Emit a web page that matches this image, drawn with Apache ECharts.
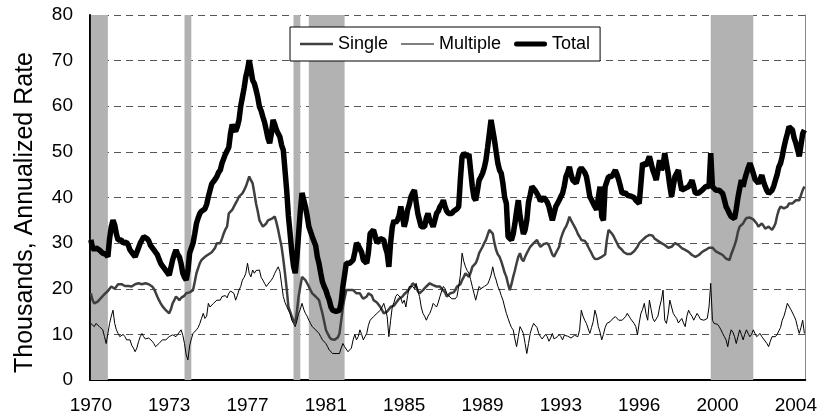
<!DOCTYPE html>
<html lang="en">
<head>
    <meta charset="UTF-8">
    <title>Housing starts</title>
    <style>
        body{ margin: 0; background: #fff; }
        #main{ width: 820px; height: 420px; }
    </style>
</head>
<body>
<div id="main"></div>
<script src="https://cdn.jsdelivr.net/npm/echarts@6/dist/echarts.min.js"></script>
<script>
    // monthly, Jan 1970 - Dec 2004, thousands (annualized rate)
    const single = [
        19, 17.5, 16.8, 17, 17.2, 17.5, 18, 18.3, 18.8, 19, 19.5, 20,
        20.5, 20.2, 20, 20.5, 21, 21.2, 21, 20.8, 20.6, 20.5, 20.6, 20.5,
        20.5, 20.8, 21, 21, 21.2, 21, 21, 21.2, 21.2, 21.2, 21, 20.8,
        20.5, 20, 19.2, 18.3, 17.5, 16.8, 16.2, 15.8, 15.3, 15, 14.6, 15.5,
        16.8, 17.5, 18.3, 18, 17.5, 18, 18.3, 18.5, 19, 19, 19.2, 19.5,
        19.7, 21.5, 23.4, 24.5, 25.6, 26.3, 26.5, 27, 27.2, 27.5, 27.8, 28,
        28.5, 29, 30, 30, 30, 31, 32.1, 33, 33.6, 36.5, 36.8, 37.3,
        38, 38.7, 39.4, 40.2, 40.5, 40.9, 41.6, 42.4, 43.5, 44.6, 43.8, 43.1,
        41, 38.7, 37, 35, 34.3, 33.6, 34, 34.3, 35, 35, 35.3, 35.5,
        35.8, 34.5, 32.9, 31, 29.2, 26.5, 23.4, 20, 16.1, 15, 13.9, 13,
        12.4, 15, 18.3, 20.5, 22.6, 22.2, 21.9, 21.2, 20.5, 19.7, 19, 18.6,
        18.3, 18, 17.5, 16, 14.6, 12.8, 11, 10.2, 9.5, 9, 8.8, 8.8,
        9, 9.3, 10.2, 13, 16, 18, 19.7, 19.7, 19.7, 19.5, 19.7, 19.3,
        19, 19, 19, 18.3, 17.8, 17.5, 18.3, 19, 19, 18.5, 17.5, 17.3,
        17, 16.5, 16, 15.3, 14.6, 14.6, 15, 15.5, 16, 16, 16.3, 16.8,
        17.3, 17.8, 17.5, 18.3, 18.8, 19, 19.5, 19.7, 20.5, 21.2, 21, 20.5,
        19.5, 19, 19.3, 19.7, 20, 20.5, 20.8, 21.2, 21, 20.8, 20.5, 20.5,
        20.5, 20.5, 20, 19.7, 19.2, 18.3, 18.6, 19, 19.4, 19.2, 19.7, 20.5,
        20.5, 21, 21.9, 22.6, 23.4, 23, 22.6, 23.5, 24.8, 25.2, 25.6, 26.5,
        27.8, 28.5, 29.2, 30, 30.7, 31.8, 32.9, 32.5, 32.1, 30, 28.5, 27.5,
        27, 26, 24.8, 23.5, 22.6, 21, 19.7, 21, 22.6, 24, 25.6, 27,
        27.8, 26.5, 26, 27, 27.8, 28.5, 29.2, 29.6, 30, 30.3, 30.7, 29.8,
        29.2, 29.5, 29.8, 30, 30, 29.5, 28.5, 27.5, 27, 27.8, 28.5, 29.2,
        31, 32.1, 33, 33.6, 34.5, 35.8, 35, 34.3, 33.6, 32.9, 32, 31.4,
        30.7, 30.7, 30.5, 30, 29.2, 28.5, 27.8, 27, 26.5, 26.3, 26.6, 27,
        27, 27, 27.5, 30.7, 32.9, 32.5, 32.1, 31.5, 30.7, 30, 29.2, 28.8,
        28.5, 28, 27.8, 27.6, 27.4, 27.6, 27.8, 28.2, 28.5, 29.2, 30, 30.4,
        30.7, 31, 31.4, 31.6, 31.8, 31.8, 31.6, 31, 30.7, 30.5, 30.2, 30,
        29.8, 29.6, 29.2, 29, 28.8, 29.2, 29.5, 30, 30, 29.6, 29.2, 28.9,
        28.7, 28.5, 28.3, 28.1, 27.8, 27.4, 27.2, 27, 27.2, 27.4, 27.8, 28.1,
        28.3, 28.5, 28.8, 29, 29.2, 29, 28.7, 28.2, 27.8, 27.8, 27.6, 27.4,
        27, 26.6, 26.3, 26.3, 27.5, 28.5, 29.5, 30.7, 32.5, 33.6, 33.6, 34.3,
        35, 35.5, 35.8, 35.6, 35.4, 35.2, 35, 34.3, 33.6, 34, 34.3, 33.8,
        33.2, 33.4, 33.6, 33.2, 32.9, 33.5, 34.3, 36, 37.3, 38, 38, 37.6,
        37.3, 38, 38.7, 38.7, 38.7, 39, 39.4, 39.4, 39.4, 40.5, 41.6, 42.4
    ];
    const multiple = [
        12.4, 12, 11.7, 12.4, 12, 11.7, 11.5, 11, 9.5, 8, 10.2, 12.4,
        14, 15.3, 12.4, 11, 10.2, 9.5, 9.8, 10, 9.5, 8.8, 8.5, 8.8,
        7.6, 7, 6.2, 7, 8.4, 9.5, 10.2, 9.5, 9, 8.8, 9.2, 9,
        8.5, 8, 7.3, 7.6, 8, 8.4, 8.8, 8.5, 8.8, 9.2, 9.5, 9.7,
        9.9, 9.7, 9.5, 10, 10.2, 11, 9.8, 8, 5.5, 4.4, 7.5, 9,
        10.2, 10.5, 11, 11.5, 12.4, 13.5, 14.6, 13.5, 14, 16.8, 16, 16.4,
        16.8, 17.2, 17.5, 17.8, 17.5, 18.3, 18, 18.5, 18, 19, 19.5, 19.7,
        19, 17.5, 18.5, 19.7, 20.5, 21.9, 22.5, 23.4, 25.6, 23.4, 22.6, 24.1,
        23.4, 24, 24.1, 24.1, 22.5, 21.9, 21.2, 20.5, 21, 20.8, 21.9, 22.5,
        23.4, 24.1, 24.8, 23.8, 21, 18.3, 17, 16.1, 15.3, 14.6, 13.1, 12.4,
        11.7, 13, 14.6, 15.5, 16.8, 15.5, 14.6, 14, 13.1, 12.4, 11.7, 11.3,
        11, 10.6, 10.2, 9.5, 8.8, 8.4, 8, 7.3, 6.6, 6.2, 5.8, 6.2,
        5.8, 6.2, 5.8, 7, 8, 7.3, 7, 6.2, 5.8, 7, 8.8, 10,
        8.8, 9.5, 11, 10, 8.8, 9.5, 10.2, 12, 13.1, 13.5, 13.9, 14.2,
        14.6, 15, 15.3, 16, 16.8, 15.5, 13.9, 9.5, 13, 16, 17, 18.3,
        18.8, 19, 18, 16.8, 17.5, 16, 18.5, 20.5, 20.5, 20.5, 20, 21.2,
        19.5, 18.3, 16, 14.6, 14, 13.1, 14, 14.6, 15.5, 16.8, 16.5, 16,
        17, 18.3, 19.5, 20.5, 20, 19, 18.5, 18.3, 17.8, 17.5, 17.8, 18.3,
        20.5, 23, 27.8, 26, 24.8, 24, 23.4, 22, 20.5, 19, 17.5, 19,
        20.5, 20, 19.7, 20.5, 20.5, 21, 21.9, 23, 24.8, 23, 21.9, 20.5,
        19.7, 18.5, 17.5, 16, 14.6, 13.5, 12.4, 11.5, 11, 9, 7.3, 9.5,
        11.7, 11, 10.2, 8, 5.8, 8, 10.2, 11.5, 12.4, 12, 11.5, 10.2,
        9.5, 9, 8.8, 10, 9.5, 8.5, 9.2, 10.2, 9, 8.8, 9.5, 10,
        9.5, 8.8, 9.8, 10.2, 9.6, 10, 9.2, 8.8, 9.8, 10.2, 9.5, 11,
        15.3, 14, 13.1, 12.4, 12.8, 10.2, 11.5, 12.8, 15.3, 14, 11.7, 10.5,
        8.8, 10, 11.5, 12.4, 12.4, 12.8, 13.3, 13.5, 13.9, 13.5, 13.1, 13.5,
        13.1, 13.5, 13.9, 14.6, 14, 13.4, 13.1, 12.4, 11.7, 9.9, 12.5, 14.6,
        15.5, 16.8, 14.5, 13.1, 17.5, 15.5, 13.5, 12.8, 12.4, 14, 16, 17.5,
        19.7, 13.1, 12.4, 14.5, 17.5, 16, 14.6, 14, 13.5, 12.5, 12.4, 13.5,
        12.5, 11.7, 14, 15.3, 14.5, 14, 13.1, 13.5, 14.6, 14, 13.3, 13.5,
        13.1, 12.8, 13.5, 16, 21.2, 13.1, 12.4, 12.8, 12.2, 11.7, 11, 10.2,
        9.5, 8.8, 7.3, 9.5, 11, 10.5, 9.5, 8, 9.5, 11, 10, 8.8,
        10, 11, 10.2, 9.5, 10, 11, 10.2, 9.5, 9.8, 10.2, 9.5, 9,
        8.8, 8, 7.3, 8.5, 9.5, 9.5, 9.5, 10, 10.2, 11.5, 13.1, 14,
        15.3, 16.8, 16.8, 15.5, 15.3, 14, 13.1, 11.5, 10.2, 11.5, 13.1, 10.2
    ];
    const total = [
        30.7, 29, 28.5, 29, 28.8, 28.5, 28.5, 27.8, 28, 27.5, 27, 31,
        33.6, 35, 34, 32, 30.7, 30.5, 30.7, 30, 30, 30.2, 29.5, 28.5,
        28, 27.5, 27, 28, 29, 30, 30.7, 31.4, 31.4, 31, 30.5, 29.5,
        29, 28.5, 28.5, 27.5, 26.5, 25.6, 25, 24.5, 24.1, 23.5, 23, 22.6,
        26.3, 27.5, 28.5, 27.5, 27, 25.5, 23.4, 22.5, 21.9, 24, 27.8, 28,
        30, 32, 34.3, 35.5, 36.5, 37, 37.3, 37.5, 38.5, 40.2, 41.6, 43,
        43.1, 44, 44.6, 45.5, 46, 47.5, 48.5, 49.5, 49.7, 51, 54, 56,
        55, 54.5, 55.5, 57, 60, 62, 64, 66.5, 68, 70.1, 68, 65.7,
        65, 63.6, 62, 59.9, 59, 57.7, 56.5, 54.8, 53, 51.9, 54, 57,
        56, 54.8, 54, 53.3, 51.5, 50.4, 46, 41.6, 36, 32.1, 28, 25,
        23.4, 27, 32.1, 37, 41, 40.9, 38, 36, 33.6, 32.5, 31.4, 31,
        29.5, 27, 25.5, 23.4, 21.5, 20.5, 19.7, 18.5, 17.5, 16, 15.3, 15,
        15, 15.3, 15.3, 17, 20.5, 23, 25.6, 26, 25.6, 26, 26.3, 28,
        30, 29.5, 29.2, 28, 26.3, 26, 25.6, 28, 32.1, 32.5, 32.9, 31.5,
        30, 30.5, 31, 30.7, 30.7, 29, 27.8, 24.8, 30, 33.5, 35, 34.5,
        35, 36, 38, 36, 33.6, 35, 37.3, 38.5, 40.2, 41, 41.6, 39,
        36.5, 35, 33.6, 33.6, 33.6, 35.5, 36.5, 35, 34.5, 33.6, 35, 36.5,
        37, 38, 38.5, 39.4, 38, 37, 36.5, 36.5, 36.5, 37, 37.3, 37.5,
        38, 44, 49, 49.7, 49.5, 49, 49.5, 46, 42.4, 40, 39.4, 41.5,
        43.8, 44.5, 45.3, 46.5, 48.2, 51, 54, 57, 57, 52.6, 50, 47.5,
        46, 45.3, 43, 40, 38.7, 31.4, 31, 30.7, 32, 34.3, 37, 39.4,
        36, 34, 32, 32.9, 35, 39, 40.6, 42.4, 42, 41.5, 41.6, 40.2,
        39.2, 39.6, 40, 40.2, 39, 38, 36.5, 35, 36.5, 38, 38.7, 39.4,
        40.2, 40.9, 42.5, 44.6, 45.5, 46.7, 45, 43.8, 43.5, 43.1, 44.5, 46,
        46.5, 46.7, 45.5, 44.6, 42.5, 40.2, 39.5, 38.7, 38, 37.3, 40, 42.4,
        35.8, 35, 42.4, 43.5, 44.6, 45, 44.6, 45.3, 46, 45, 43.8, 42.4,
        40.9, 41, 41, 40.5, 40.2, 40.3, 40.5, 40, 39.4, 39, 38.7, 43,
        47.5, 47.5, 47, 48, 49, 47.5, 46, 45, 43.8, 46, 48.2, 46,
        47, 49.7, 47.5, 45.3, 42.5, 40.2, 42.5, 44.6, 45.3, 46, 43.5, 41.6,
        41.6, 42, 42, 42.4, 43, 43.8, 42.4, 40.9, 41, 41, 41.3, 41.6,
        42, 42.4, 42.4, 42.4, 49.7, 42.4, 42, 41.6, 41.6, 41.6, 41.3, 40.9,
        39.5, 38, 37.3, 36.5, 35.8, 35.5, 35.4, 37.5, 40, 42, 43.8, 42.4,
        44, 45.3, 46.5, 47.5, 46.5, 45.3, 44, 43.8, 43.1, 44, 44.9, 43.5,
        42.4, 41.5, 40.9, 41, 41.6, 42.5, 43.8, 45, 46.7, 47.5, 49, 51,
        52.6, 54, 55.5, 55.3, 54.8, 53, 51.9, 50.5, 49, 51.5, 54, 54.8
    ];
    // shaded periods, as [first month, last month] indexes into the series
    const recessions = [[0, 10], [55, 59], [119, 123], [128, 149], [364, 389]];
    const firstYear = 1970;

    const months = [];
    for (let i = 0; i < total.length; i++) {
        const y = firstYear + Math.floor(i / 12);
        const m = (i % 12) + 1;
        months.push(y + '-' + (m < 10 ? '0' + m : m));
    }

    const font = 'Liberation Sans, Arial, sans-serif';
    const chart = echarts.init(document.getElementById('main'));

    chart.setOption({
        animation: false,
        textStyle: { fontFamily: font },
        grid: { left: 90, right: 13, top: 15, bottom: 40, containLabel: false },
        legend: {
            left: 290,
            top: 27,
            padding: [8, 10, 8, 10],
            itemGap: 13,
            itemWidth: 33,
            itemHeight: 14,
            borderColor: '#000',
            borderWidth: 1,
            backgroundColor: '#fff',
            textStyle: { fontSize: 18, color: '#000', fontFamily: font },
            data: [
                { name: 'Single', icon: 'path://M0,0H33V2.5H0Z' },
                { name: 'Multiple', icon: 'path://M0,0H33V1H0Z' },
                { name: 'Total', icon: 'path://M2.5,0H30.5A2.5,2.5,0,0,1,30.5,5H2.5A2.5,2.5,0,0,1,2.5,0Z' }
            ]
        },
        xAxis: {
            type: 'category',
            data: months,
            boundaryGap: true,
            axisLine: { lineStyle: { color: '#000', width: 2 } },
            axisTick: { show: false },
            axisLabel: {
                interval: 45,
                margin: 16,
                fontSize: 19,
                color: '#000',
                formatter: v => v.slice(0, 4)
            },
            splitLine: { show: false }
        },
        yAxis: [{
            type: 'value',
            min: 0,
            max: 80,
            interval: 10,
            name: 'Thousands, Annualized Rate',
            nameLocation: 'middle',
            nameGap: 52,
            nameTextStyle: { fontSize: 25, color: '#000', padding: [0, 30, 0, 0] },
            axisLine: { show: true, lineStyle: { color: '#000', width: 2 } },
            axisTick: { show: false },
            axisLabel: { fontSize: 19, color: '#000', margin: 17 },
            splitLine: { lineStyle: { color: '#555', type: [7, 5], width: 1 } }
        }, {
            type: 'value',
            min: 0,
            max: 80,
            interval: 10,
            position: 'right',
            axisLine: { show: true, lineStyle: { color: '#888', width: 1 } },
            axisTick: { show: false },
            axisLabel: { show: false },
            splitLine: { show: false }
        }],
        series: [
            {
                name: 'Single',
                type: 'line',
                data: single,
                showSymbol: false,
                symbol: 'none',
                lineStyle: { color: '#3f3f3f', width: 2.5 },
                itemStyle: { color: '#3f3f3f' },
                markArea: {
                    silent: true,
                    itemStyle: { color: '#b2b2b2' },
                    data: recessions.map(r => [{ xAxis: months[r[0]] }, { xAxis: months[r[1]] }])
                }
            },
            {
                name: 'Multiple',
                type: 'line',
                data: multiple,
                showSymbol: false,
                symbol: 'none',
                lineStyle: { color: '#000', width: 1 },
                itemStyle: { color: '#000' }
            },
            {
                name: 'Total',
                type: 'line',
                data: total,
                showSymbol: false,
                symbol: 'none',
                lineStyle: { color: '#000', width: 5.5 },
                itemStyle: { color: '#000' }
            }
        ]
    });
</script>
</body>
</html>
